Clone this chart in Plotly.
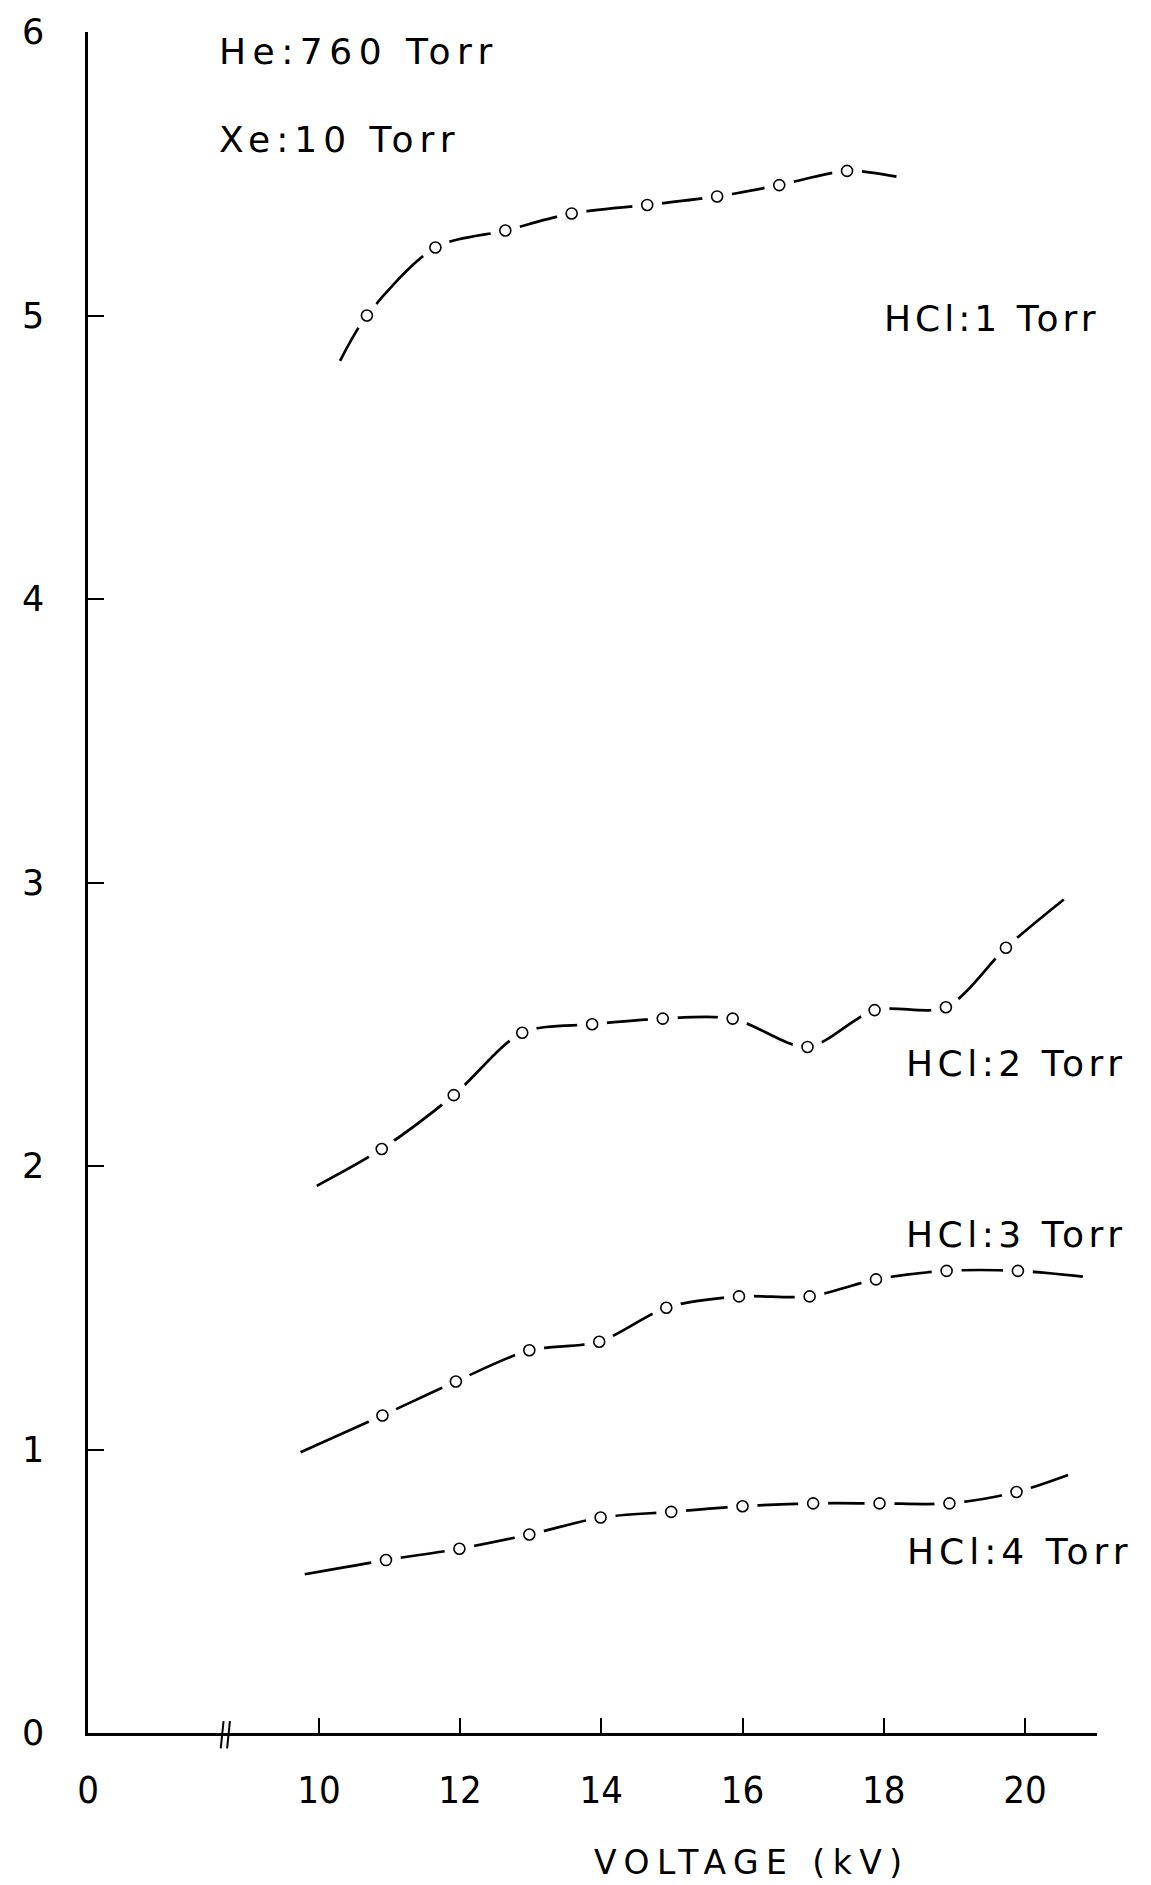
import plotly.graph_objects as go

# ---------------- data ----------------
# HCl : 1 Torr
hcl1_kv = [10.68, 11.65, 12.64, 13.58, 14.65, 15.64, 16.52, 17.48]
hcl1_val = [5.00, 5.24, 5.30, 5.36, 5.39, 5.42, 5.46, 5.51]
hcl1_curve_start = (10.30, 4.84)
hcl1_curve_end = (18.18, 5.49)

# HCl : 2 Torr
hcl2_kv = [10.89, 11.91, 12.88, 13.87, 14.87, 15.86, 16.92, 17.87, 18.88, 19.73]
hcl2_val = [2.06, 2.25, 2.47, 2.50, 2.52, 2.52, 2.42, 2.55, 2.56, 2.77]
hcl2_curve_start = (9.97, 1.93)
hcl2_curve_end = (20.55, 2.94)

# HCl : 3 Torr
hcl3_kv = [10.90, 11.94, 12.98, 13.97, 14.92, 15.95, 16.95, 17.89, 18.89, 19.90]
hcl3_val = [1.12, 1.24, 1.35, 1.38, 1.50, 1.54, 1.54, 1.60, 1.63, 1.63]
hcl3_curve_start = (9.74, 0.99)
hcl3_curve_end = (20.82, 1.61)

# HCl : 4 Torr
hcl4_kv = [10.95, 11.99, 12.98, 13.99, 14.99, 16.00, 17.00, 17.94, 18.93, 19.88]
hcl4_val = [0.61, 0.65, 0.70, 0.76, 0.78, 0.80, 0.81, 0.81, 0.81, 0.85]
hcl4_curve_start = (9.80, 0.56)
hcl4_curve_end = (20.61, 0.91)

series = [
    ("HCl:1 Torr", hcl1_kv, hcl1_val, hcl1_curve_start, hcl1_curve_end),
    ("HCl:2 Torr", hcl2_kv, hcl2_val, hcl2_curve_start, hcl2_curve_end),
    ("HCl:3 Torr", hcl3_kv, hcl3_val, hcl3_curve_start, hcl3_curve_end),
    ("HCl:4 Torr", hcl4_kv, hcl4_val, hcl4_curve_start, hcl4_curve_end),
]

x_tick_vals = [10, 12, 14, 16, 18, 20]
x_tick_text = ["10", "12", "14", "16", "18", "20"]
y_tick_vals = [0, 1, 2, 3, 4, 5, 6]
y_tick_text = ["0", "1", "2", "3", "4", "5", "6"]

X_MIN, X_MAX = 6.73, 21.02   # left edge shown as "0" (broken axis)
AXIS_BREAK = 8.68

# label positions (data coords: left edge, vertical centre, letter spacing)
curve_labels = [
    ("HCl:1 Torr", 17.98, 4.99, 4),
    ("HCl:2 Torr", 18.28, 2.36, 4.5),
    ("HCl:3 Torr", 18.28, 1.76, 4.5),
    ("HCl:4 Torr", 18.30, 0.64, 5),
]
gas_labels = [
    ("He:760 Torr", 8.55, 5.93, 6.5),
    ("Xe:10 Torr", 8.55, 5.62, 6),
]

# ---------------- figure ----------------
fig = go.Figure()
FONT = "DejaVu Sans, Liberation Sans, Arial, sans-serif"

for name, xs, ys, st, en in series:
    fig.add_trace(go.Scatter(
        x=[st[0]] + xs + [en[0]], y=[st[1]] + ys + [en[1]],
        mode="lines", line=dict(color="black", width=2.7, shape="spline", smoothing=0.85),
        hoverinfo="skip", showlegend=False))
for name, xs, ys, st, en in series:
    fig.add_trace(go.Scatter(
        x=xs, y=ys, mode="markers",
        marker=dict(size=30, color="white", line=dict(width=0)),
        hoverinfo="skip", showlegend=False))
    fig.add_trace(go.Scatter(
        x=xs, y=ys, mode="markers", name=name,
        marker=dict(size=11, color="white", symbol="circle",
                    line=dict(color="black", width=1.6)),
        showlegend=False))

annotations = []
for txt, x, y, sp in curve_labels + gas_labels:
    annotations.append(dict(
        x=x, y=y, xref="x", yref="y", xanchor="left", yanchor="middle",
        text=f'<span style="letter-spacing:{sp}px">{txt}</span>',
        showarrow=False, font=dict(family=FONT, size=36, color="black")))
annotations.append(dict(
    x=0.658, y=-0.076, xref="paper", yref="paper", xanchor="center", yanchor="middle",
    text='<span style="letter-spacing:7.5px">VOLTAGE (kV)</span>',
    showarrow=False, font=dict(family=FONT, size=33, color="black")))

# axis break marks
shapes = []
for dx in (-0.05, 0.04):
    shapes.append(dict(type="line", xref="x", yref="paper",
                       x0=AXIS_BREAK + dx - 0.02, x1=AXIS_BREAK + dx + 0.02,
                       y0=-0.009, y1=0.007, line=dict(color="black", width=2)))

fig.update_layout(
    width=1151, height=1885,
    margin=dict(l=88, r=54, t=25, b=152),
    paper_bgcolor="white", plot_bgcolor="white",
    showlegend=False,
    annotations=annotations, shapes=shapes,
    xaxis=dict(range=[X_MIN, X_MAX],
               tickvals=[X_MIN] + x_tick_vals, ticktext=["0"] + x_tick_text,
               ticks="inside", ticklen=15, tickwidth=2, tickcolor="black",
               showline=True, linecolor="black", linewidth=2.5,
               showgrid=False, zeroline=False, ticklabelstandoff=22,
               tickfont=dict(family="Liberation Sans Narrow, DejaVu Sans Condensed, Liberation Sans, sans-serif",
                             size=38, color="black")),
    yaxis=dict(range=[0, 6], tickvals=y_tick_vals, ticktext=y_tick_text,
               ticks="inside", ticklen=16, tickwidth=2, tickcolor="black",
               showline=True, linecolor="black", linewidth=2.5,
               showgrid=False, zeroline=False, ticklabelstandoff=34,
               tickfont=dict(family=FONT, size=35, color="black")),
)

fig.write_html("out.html",
               config={"displayModeBar": False},
               post_script="document.body.style.margin='0';document.body.style.overflow='hidden';")
